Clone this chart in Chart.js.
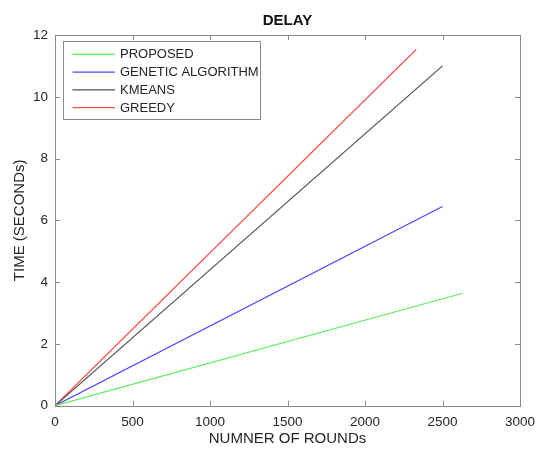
<!DOCTYPE html>
<html>
<head>
<meta charset="utf-8">
<script src="https://cdn.jsdelivr.net/npm/chart.js@4.4.1/dist/chart.umd.min.js"></script>
<style>
  html, body { margin: 0; padding: 0; background: #fff; }
  #wrap { width: 539px; height: 450px; }
</style>
</head>
<body>
<div id="wrap"><canvas id="delayChart" width="539" height="450"></canvas></div>
<script>
// --- DATA ---
const seriesNames = ['PROPOSED', 'GENETIC ALGORITHM', 'KMEANS', 'GREEDY'];
const seriesColors = ['#5cf05c', '#4646ff', '#505050', '#ff5050'];

const roundsProposed = [0, 2630];
const delayProposed = [0, 3.64];
const roundsGenetic = [0, 2500];
const delayGenetic = [0, 6.45];
const roundsKmeans = [0, 2500];
const delayKmeans = [0, 11.0];
const roundsGreedy = [0, 2330];
const delayGreedy = [0, 11.53];

const xTickValues = [0, 500, 1000, 1500, 2000, 2500, 3000];
const yTickValues = [0, 2, 4, 6, 8, 10, 12];

const FONT = "Arial, 'Liberation Sans', sans-serif";
const AXIS_GRAY = '#8a8a8a';
const TEXT_DARK = '#262626';

function toPoints(xs, ys) {
    return xs.map((x, i) => ({ x: x, y: ys[i] }));
}

const allSeries = [
    toPoints(roundsProposed, delayProposed),
    toPoints(roundsGenetic, delayGenetic),
    toPoints(roundsKmeans, delayKmeans),
    toPoints(roundsGreedy, delayGreedy)
];

// --- PLUGINS ---
// box around plot area + inward tick marks on all four sides (matlab look)
const boxPlugin = {
    id: 'boxPlugin',
    afterDatasetsDraw(chart) {
        const { ctx, chartArea: a, scales } = chart;
        ctx.save();
        ctx.strokeStyle = AXIS_GRAY;
        ctx.lineWidth = 1;
        ctx.beginPath();
        xTickValues.forEach(v => {
            const px = Math.round(scales.x.getPixelForValue(v)) + 0.5;
            ctx.moveTo(px, a.bottom); ctx.lineTo(px, a.bottom - 5);
            ctx.moveTo(px, a.top); ctx.lineTo(px, a.top + 5);
        });
        yTickValues.forEach(v => {
            const py = Math.round(scales.y.getPixelForValue(v)) + 0.5;
            ctx.moveTo(a.left, py); ctx.lineTo(a.left + 5, py);
            ctx.moveTo(a.right, py); ctx.lineTo(a.right - 5, py);
        });
        ctx.stroke();
        ctx.strokeRect(Math.round(a.left) + 0.5, Math.round(a.top) + 0.5,
            Math.round(a.right - a.left), Math.round(a.bottom - a.top));
        ctx.restore();
    }
};

// title centered over the plot area
const titlePlugin = {
    id: 'titlePlugin',
    afterDraw(chart) {
        const { ctx, chartArea: a } = chart;
        ctx.save();
        ctx.fillStyle = '#111';
        ctx.font = 'bold 15px ' + FONT;
        ctx.textAlign = 'center';
        ctx.textBaseline = 'middle';
        ctx.fillText('DELAY', (a.left + a.right) / 2, 21);
        ctx.restore();
    }
};

// boxed legend in the upper left corner of the plot
const legendPlugin = {
    id: 'legendPlugin',
    afterDraw(chart) {
        const { ctx, chartArea: a } = chart;
        const x0 = a.left + 8, y0 = a.top + 6;
        const w = 197, h = 78, row = 17.8;
        ctx.save();
        ctx.fillStyle = '#fff';
        ctx.fillRect(x0, y0, w, h);
        ctx.strokeStyle = AXIS_GRAY;
        ctx.lineWidth = 1;
        ctx.strokeRect(Math.round(x0) + 0.5, Math.round(y0) + 0.5, w, h);
        ctx.font = '13px ' + FONT;
        ctx.textBaseline = 'middle';
        chart.data.datasets.forEach((ds, i) => {
            const cy = y0 + 13.3 + i * row;
            ctx.strokeStyle = ds.borderColor;
            ctx.lineWidth = 1.2;
            ctx.beginPath();
            ctx.moveTo(x0 + 9.5, cy); ctx.lineTo(x0 + 52, cy);
            ctx.stroke();
            ctx.fillStyle = TEXT_DARK;
            ctx.fillText(ds.label, x0 + 57, cy + 0.5);
        });
        ctx.restore();
    }
};

// --- CHART ---
new Chart(document.getElementById('delayChart').getContext('2d'), {
    type: 'scatter',
    data: {
        datasets: seriesNames.map((name, i) => ({
            label: name,
            data: allSeries[i],
            showLine: true,
            borderColor: seriesColors[i],
            backgroundColor: seriesColors[i],
            borderWidth: 1.2,
            pointRadius: 0,
            fill: false
        }))
    },
    options: {
        responsive: false,
        animation: false,
        layout: { padding: { top: 35, right: 19, left: 0, bottom: 0 } },
        plugins: {
            legend: { display: false },
            title: { display: false },
            tooltip: { enabled: false }
        },
        scales: {
            x: {
                type: 'linear',
                min: 0, max: 3000,
                afterFit(scale) {
                    scale.height = 44.3;
                    scale.paddingLeft = 0;
                    scale.paddingRight = 0;
                },
                afterBuildTicks(scale) { scale.ticks = xTickValues.map(v => ({ value: v })); },
                grid: { display: false, drawTicks: false, tickLength: 0 },
                border: { display: false },
                ticks: {
                    color: TEXT_DARK, padding: 8, font: { family: FONT, size: 13.5 }, maxRotation: 0,
                    callback: v => String(v)
                },
                title: {
                    display: true, text: 'NUMNER OF ROUNDs', color: TEXT_DARK,
                    font: { family: FONT, size: 15 }, padding: { top: 0, bottom: 2 }
                }
            },
            y: {
                type: 'linear',
                min: 0, max: 12,
                afterFit(scale) { scale.width = 55; },
                afterBuildTicks(scale) { scale.ticks = yTickValues.map(v => ({ value: v })); },
                grid: { display: false, drawTicks: false, tickLength: 0 },
                border: { display: false },
                ticks: {
                    color: TEXT_DARK, padding: 7, font: { family: FONT, size: 13.5 },
                    callback: v => String(v)
                },
                title: {
                    display: true, text: 'TIME (SECONDs)', color: TEXT_DARK,
                    font: { family: FONT, size: 15 }, padding: { top: 11, bottom: 0 }
                }
            }
        }
    },
    plugins: [boxPlugin, titlePlugin, legendPlugin]
});
</script>
</body>
</html>
